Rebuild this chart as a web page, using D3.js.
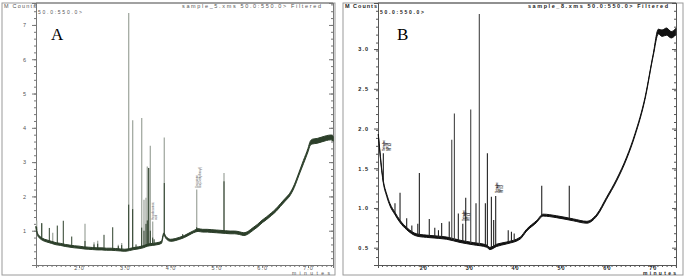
<!DOCTYPE html>
<html>
<head>
<meta charset="utf-8">
<script src="https://cdn.jsdelivr.net/npm/d3@7"></script>
<style>
  body { margin: 0; background: #fff; }
  svg { display: block; }
  .tick text { font-family: "Liberation Sans", Arial, sans-serif; }
</style>
</head>
<body>
<svg width="685" height="277"></svg>
<script>
// ---- panel A : sample_5 ----
const aBaseT = [10.6, 11, 11.5, 12, 13, 14, 15, 16, 17, 18, 19, 20, 21, 22, 23, 24, 25, 26, 27, 28, 29, 30, 31, 32, 33, 34, 35, 36, 37, 38, 38.5, 39, 40, 41, 42, 43, 44, 45, 46, 47, 48, 49, 50, 51, 52, 53, 54, 55, 56, 57, 58, 59, 60, 61, 62, 63, 64, 65, 66, 67, 68, 69, 70, 70.5, 71, 72, 73, 74, 75, 75.5]
const aBaseV = [1.1, 0.88, 0.8, 0.75, 0.7, 0.66, 0.62, 0.6, 0.57, 0.55, 0.53, 0.52, 0.5, 0.49, 0.48, 0.47, 0.47, 0.46, 0.46, 0.45, 0.44, 0.43, 0.45, 0.48, 0.5, 0.53, 0.58, 0.6, 0.62, 0.66, 0.9, 0.8, 0.72, 0.74, 0.78, 0.83, 0.9, 0.97, 1.02, 1.0, 1.0, 0.99, 0.98, 0.97, 0.96, 0.95, 0.95, 0.93, 0.9, 0.95, 1.05, 1.15, 1.27, 1.37, 1.48, 1.6, 1.75, 1.9, 2.05, 2.3, 2.65, 3.0, 3.35, 3.55, 3.6, 3.62, 3.66, 3.7, 3.72, 3.68]
const aNoise = [0.03, 0.03, 0.03, 0.03, 0.03, 0.03, 0.03, 0.03, 0.03, 0.03, 0.03, 0.03, 0.03, 0.03, 0.03, 0.03, 0.03, 0.03, 0.03, 0.03, 0.03, 0.03, 0.03, 0.03, 0.03, 0.03, 0.03, 0.03, 0.03, 0.03, 0.03, 0.03, 0.03, 0.03, 0.03, 0.03, 0.03, 0.03, 0.04, 0.04, 0.04, 0.04, 0.04, 0.04, 0.04, 0.04, 0.04, 0.04, 0.04, 0.04, 0.04, 0.04, 0.04, 0.04, 0.04, 0.04, 0.04, 0.04, 0.04, 0.04, 0.04, 0.05, 0.05, 0.06, 0.07, 0.07, 0.07, 0.07, 0.07, 0.07]
const aPeakT     = [10.76, 11.86, 13.52, 14.26, 15.26, 16.57, 18.41, 21.31, 23.28, 24.08, 25.46, 27.36, 28.58, 29.32, 30.85, 31.72, 32.45, 33.69, 34.19, 34.63, 34.91, 35.22, 35.57, 36.09, 36.4, 38.62, 42.64, 45.7, 51.66]
const aPeakGrey  = [1.3, 1.22, 0, 0.94, 0, 0, 0, 1.2, 0.66, 0.71, 0, 0, 0.59, 0.64, 7.35, 4.22, 0, 4.29, 1.9, 1.96, 2.87, 2.83, 3.48, 1.27, 0, 3.72, 0, 2.2, 2.68]
const aPeakGreen = [1.1, 1.22, 1.08, 0, 1.15, 1.29, 0.83, 0.7, 0.6, 0.62, 0.88, 1.1, 0.55, 0.58, 1.76, 1.63, 0.6, 1.09, 1.0, 1.2, 1.3, 2.83, 1.0, 0.8, 0.75, 2.39, 0.9, 1.1, 2.44]
const aYTicks = [1, 2, 3, 4, 5, 6, 7]
const aXTicks = [20, 30, 40, 50, 60, 70]
const aXLabels = ['2.0', '3.0', '4.0', '5.0', '6.0', '7.0']

// ---- panel B : sample_8 ----
const bBaseT = [10.2, 10.57, 10.94, 11.29, 12.03, 12.75, 13.83, 14.93, 16.38, 18.56, 21.46, 25.1, 28.0, 30.9, 33.8, 34.5, 36, 38.2, 41.1, 42.5, 44.7, 46.1, 49, 52.7, 55.6, 57.8, 59.9, 62.1, 64.3, 66.1, 68.3, 70.1, 71.2, 72, 73, 74, 75]
const bBaseV = [1.92, 1.69, 1.48, 1.33, 1.16, 1.04, 0.93, 0.83, 0.74, 0.66, 0.64, 0.62, 0.58, 0.55, 0.52, 0.49, 0.53, 0.56, 0.62, 0.72, 0.83, 0.91, 0.89, 0.85, 0.82, 0.91, 1.12, 1.35, 1.63, 1.92, 2.38, 2.93, 3.22, 3.2, 3.22, 3.18, 3.22]
const bNoise = [0.01, 0.012, 0.012, 0.014, 0.014, 0.014, 0.014, 0.014, 0.014, 0.014, 0.014, 0.014, 0.014, 0.014, 0.014, 0.014, 0.014, 0.012, 0.012, 0.012, 0.012, 0.012, 0.012, 0.012, 0.012, 0.012, 0.012, 0.012, 0.012, 0.012, 0.012, 0.012, 0.03, 0.04, 0.045, 0.04, 0.04]
const bPeakT = [11.29, 13.83, 14.93, 16.38, 17.5, 18.8, 19.14, 21.3, 22.5, 23.3, 24.0, 25.65, 26.2, 26.77, 27.63, 28.6, 29.24, 30.33, 31.48, 32.2, 33.52, 33.96, 34.83, 35.33, 35.77, 38.5, 39.2, 39.8, 45.8, 51.8]
const bPeakV = [1.69, 1.06, 1.19, 0.87, 0.78, 0.8, 1.44, 0.86, 0.75, 0.72, 0.81, 0.83, 1.86, 2.19, 0.93, 0.8, 1.13, 2.24, 1.06, 3.44, 1.06, 1.69, 1.14, 0.85, 1.15, 0.72, 0.7, 0.68, 1.28, 1.28]
const bYTicks = [0.5, 1.0, 1.5, 2.0, 2.5, 3.0]
const bXTicks = [20, 30, 40, 50, 60, 70]

const svg = d3.select('svg')
const font = '"Liberation Sans", Arial, sans-serif'

const drawPanel = (cfg) => {
  const g = svg.append('g')
  const x = d3.scaleLinear().domain(cfg.xDomain).range([cfg.left, cfg.right])
  const y = d3.scaleLinear().domain(cfg.yDomain).range([cfg.bottom, cfg.top])
  const base = d3.scaleLinear().domain(cfg.baseT).range(cfg.baseV).clamp(true)

  // frame
  g.append('rect')
    .attr('x', cfg.frame[0]).attr('y', cfg.frame[1])
    .attr('width', cfg.frame[2] - cfg.frame[0]).attr('height', cfg.frame[3] - cfg.frame[1])
    .attr('fill', 'none').attr('stroke', '#9a9a9a').attr('stroke-width', 1)

  // axes
  const yMinor = d3.range(cfg.yDomain[0], cfg.yDomain[1], cfg.yMinorStep)
  const xMinor = d3.range(Math.ceil(cfg.xDomain[0]), cfg.xDomain[1], 1)

  g.append('g').attr('transform', `translate(${cfg.left},0)`)
    .call(d3.axisLeft(y).tickValues(yMinor).tickSize(2).tickFormat(''))
  g.append('g').attr('transform', `translate(${cfg.left},0)`)
    .call(d3.axisLeft(y).tickValues(cfg.yTicks).tickSize(4).tickPadding(5).tickFormat(cfg.yFormat))
  g.append('g').attr('transform', `translate(${cfg.right},0)`)
    .call(d3.axisLeft(y).tickValues(yMinor).tickSize(2).tickFormat(''))
  g.append('g').attr('transform', `translate(${cfg.right},0)`)
    .call(d3.axisLeft(y).tickValues(cfg.yTicks).tickSize(4).tickFormat(''))
  g.append('g').attr('transform', `translate(0,${cfg.bottom})`)
    .call(d3.axisBottom(x).tickValues(xMinor).tickSize(2).tickFormat(''))
  g.append('g').attr('transform', `translate(0,${cfg.bottom})`)
    .call(d3.axisBottom(x).tickValues(cfg.xTicks).tickSize(3).tickPadding(-2).tickFormat((d, i) => cfg.xLabels[i]))
  g.selectAll('.domain').attr('stroke', cfg.axisColor)
  g.selectAll('.tick line').attr('stroke', cfg.axisColor)
  g.selectAll('.tick text')
    .attr('font-size', 5.5).attr('fill', cfg.textColor)
    .attr('letter-spacing', 1).attr('font-weight', cfg.weight)
  g.append('line').attr('x1', cfg.left).attr('x2', cfg.right)
    .attr('y1', cfg.top).attr('y2', cfg.top).attr('stroke', cfg.axisColor)

  // header texts
  const txt = (s, tx, ty, len, size) => g.append('text').text(s)
    .attr('x', tx).attr('y', ty).attr('font-family', font).attr('font-size', size || 5.5)
    .attr('font-weight', cfg.weight).attr('fill', cfg.textColor)
    .attr('textLength', len).attr('lengthAdjust', 'spacing')
  txt('M Counts', cfg.frame[0] + 2, 8, 32)
  txt('50.0:550.0>', cfg.left + 2, 14, 44, 5)
  txt(cfg.title, cfg.titleX, 8, cfg.titleLen)
  txt('minutes', cfg.minX, 275, cfg.minLen, 5)

  g.append('text').text(cfg.letter)
    .attr('x', cfg.letterX).attr('y', 40)
    .attr('font-family', '"Liberation Serif", "Times New Roman", serif')
    .attr('font-size', 17).attr('fill', '#000')

  return { g, x, y, base }
}

// ---------- panel A ----------
const A = drawPanel({
  frame: [2, 3, 335, 275], left: 36, right: 333, top: 3, bottom: 265,
  xDomain: [10.61, 75.46], yDomain: [0, 7.64], yMinorStep: 0.2,
  baseT: aBaseT, baseV: aBaseV,
  yTicks: aYTicks, yFormat: d3.format('d'),
  xTicks: aXTicks, xLabels: aXLabels,
  axisColor: '#777', textColor: '#555', weight: 'normal',
  title: 'sample_5.xms 50.0:550.0> Filtered', titleX: 182, titleLen: 139,
  minX: 292, minLen: 38, letter: 'A', letterX: 51
})

const aGrey = '#a4aba3'
const aGreen = '#2c3f2a'

// grey trace peaks
A.g.append('g').selectAll('line')
  .data(aPeakT.map((t, i) => [t, aPeakGrey[i]]).filter(d => d[1] > 0))
  .join('line')
  .attr('x1', d => A.x(d[0])).attr('x2', d => A.x(d[0]))
  .attr('y1', d => A.y(A.base(d[0]))).attr('y2', d => A.y(d[1]))
  .attr('stroke', aGrey).attr('stroke-width', 1.3)

// dark green baseline as a noise band
const aArea = d3.area()
  .x(d => A.x(d[0])).y0(d => A.y(d[1] - d[2])).y1(d => A.y(d[1] + d[2]))
  .curve(d3.curveMonotoneX)
A.g.append('path')
  .datum(aBaseT.map((t, i) => [t, aBaseV[i], aNoise[i]]))
  .attr('d', aArea).attr('fill', aGreen).attr('stroke', aGreen).attr('stroke-width', 1)

A.g.append('g').selectAll('line')
  .data(aPeakT.map((t, i) => [t, aPeakGreen[i]]).filter(d => d[1] > 0))
  .join('line')
  .attr('x1', d => A.x(d[0])).attr('x2', d => A.x(d[0]))
  .attr('y1', d => A.y(A.base(d[0]))).attr('y2', d => A.y(d[1]))
  .attr('stroke', aGreen).attr('stroke-width', 1)

// tiny peak annotations
const aNotes = [[36.09, 1.32, ['Hexadecanoic', 'acid']], [45.7, 2.25, ['Docosane', 'Bis(2-ethylhexyl)']]]
aNotes.forEach(n => {
  n[2].forEach((s, j) => {
    A.g.append('text').text(s)
      .attr('transform', `translate(${A.x(n[0]) + 1.5 + j * 3.2},${A.y(n[1])}) rotate(-90)`)
      .attr('font-family', font).attr('font-size', 2.8).attr('fill', '#555')
  })
})

// ---------- panel B ----------
const B = drawPanel({
  frame: [343, 3, 683, 275], left: 378, right: 676, top: 3, bottom: 265,
  xDomain: [10.13, 75.05], yDomain: [0.282, 3.58], yMinorStep: 0.1,
  baseT: bBaseT, baseV: bBaseV,
  yTicks: bYTicks, yFormat: d3.format('.1f'),
  xTicks: bXTicks, xLabels: bXTicks.map(String),
  axisColor: '#555', textColor: '#222', weight: 'bold',
  title: 'sample_8.xms 50.0:550.0> Filtered', titleX: 528, titleLen: 140,
  minX: 643, minLen: 33, letter: 'B', letterX: 397
})

const bArea = d3.area()
  .x(d => B.x(d[0])).y0(d => B.y(d[1] - d[2])).y1(d => B.y(d[1] + d[2]))
  .curve(d3.curveMonotoneX)
B.g.append('path')
  .datum(bBaseT.map((t, i) => [t, bBaseV[i], bNoise[i]]))
  .attr('d', bArea).attr('fill', '#111').attr('stroke', '#111').attr('stroke-width', 1)

B.g.append('g').selectAll('line')
  .data(bPeakT.map((t, i) => [t, bPeakV[i]]))
  .join('line')
  .attr('x1', d => B.x(d[0])).attr('x2', d => B.x(d[0]))
  .attr('y1', d => B.y(B.base(d[0]))).attr('y2', d => B.y(d[1]))
  .attr('stroke', d => d[1] > 1.8 ? '#444' : '#222').attr('stroke-width', 1.1)

const bNotes = [[11.29, 1.72], [28.6, 0.84], [35.77, 1.19]]
bNotes.forEach(n => {
  ['Tetradec', 'ane 98', 'RT 1.2'].forEach((s, j) => {
    B.g.append('text').text(s)
      .attr('transform', `translate(${B.x(n[0]) + 2 + j * 2.6},${B.y(n[1])}) rotate(-90)`)
      .attr('font-family', font).attr('font-size', 2.6).attr('font-weight', 'bold').attr('fill', '#111')
  })
})
</script>
</body>
</html>
